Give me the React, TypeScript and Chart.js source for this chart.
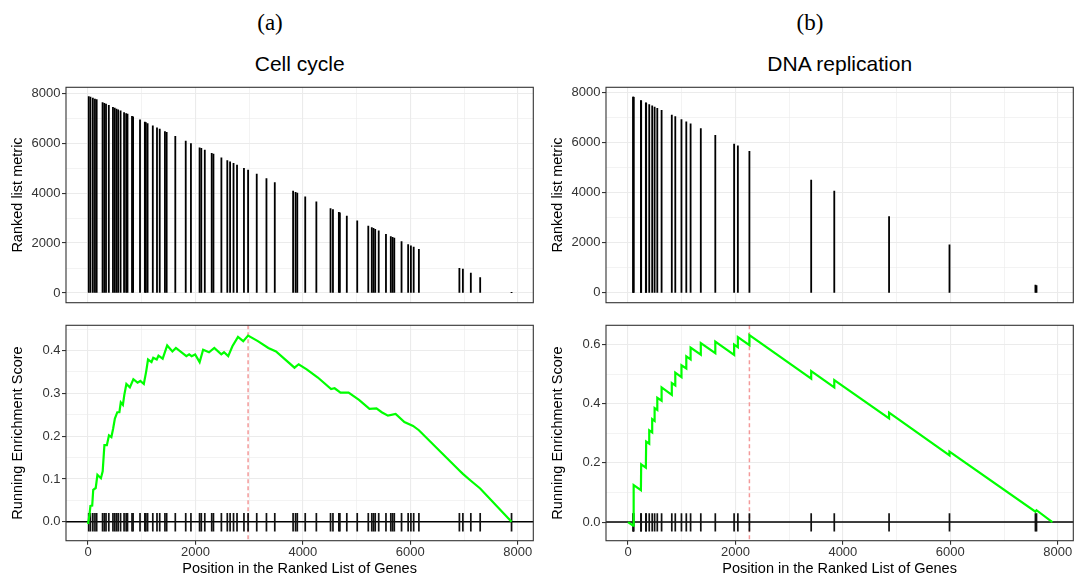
import React, { useEffect, useRef } from "react";
import { Chart, registerables } from "chart.js";

Chart.register(...registerables);

// ---------------- data: Cell cycle ----------------
const CC_HITS = [
  13, 45, 90, 129, 161, 271, 303, 335, 387, 464, 497, 529, 561, 606, 671, 710, 735, 819, 839, 968,
  1058, 1077, 1109, 1206, 1284, 1335, 1432, 1464, 1625, 1819, 1916, 2077, 2109, 2174, 2303, 2335,
  2483, 2593, 2645, 2709, 2774, 2903, 2980, 3141, 3322, 3477, 3818, 3864, 3896, 4044, 4251, 4515,
  4560, 4670, 4689, 4818, 5012, 5218, 5283, 5315, 5347, 5412, 5547, 5637, 5670, 5702, 5837, 5960,
  6011, 6063, 6160, 6914, 6979, 7127, 7301, 7885,
];
const CC_METRIC = [
  7871, 7846, 7807, 7768, 7743, 7629, 7597, 7565, 7513, 7436, 7403, 7371, 7339, 7294, 7229, 7190,
  7165, 7081, 7061, 6932, 6842, 6823, 6791, 6694, 6616, 6565, 6468, 6436, 6275, 6081, 5984, 5813,
  5791, 5726, 5597, 5565, 5417, 5307, 5255, 5191, 5126, 4997, 4920, 4759, 4578, 4423, 4082, 4036,
  4004, 3856, 3649, 3385, 3340, 3230, 3211, 3082, 2888, 2682, 2617, 2585, 2553, 2488, 2353, 2263,
  2230, 2198, 2063, 1940, 1889, 1837, 1749, 990, 952, 797, 617, 12,
];
const CC_ES_POS = [
  0, 26, 45, 78, 97, 143, 175, 240, 273, 305, 351, 390, 435, 468, 500, 545, 584, 610, 649, 675, 714,
  779, 844, 922, 974, 1039, 1084, 1117, 1182, 1214, 1279, 1312, 1390, 1474, 1571, 1636, 1831, 1883,
  1929, 1994, 2078, 2143, 2253, 2351, 2481, 2532, 2610, 2688, 2792, 2890, 2980, 3162, 3357, 3500,
  3844, 3922, 4071, 4279, 4526, 4591, 4701, 4851, 5045, 5240, 5370, 5468, 5584, 5727, 5890, 6052,
  6160, 6914, 6979, 7127, 7301, 7885,
];
const CC_ES = [
  -0.005, 0.016, 0.037, 0.038, 0.075, 0.079, 0.11, 0.102, 0.118, 0.179, 0.179, 0.202, 0.198, 0.218,
  0.241, 0.256, 0.256, 0.279, 0.273, 0.296, 0.322, 0.314, 0.333, 0.325, 0.329, 0.322, 0.352, 0.379,
  0.373, 0.383, 0.379, 0.388, 0.381, 0.412, 0.398, 0.406, 0.387, 0.391, 0.387, 0.391, 0.373, 0.402,
  0.396, 0.406, 0.391, 0.396, 0.387, 0.41, 0.432, 0.422, 0.435, 0.422, 0.406, 0.398, 0.36, 0.368,
  0.356, 0.337, 0.31, 0.312, 0.302, 0.302, 0.285, 0.264, 0.265, 0.256, 0.248, 0.252, 0.233, 0.224,
  0.214, 0.12, 0.112, 0.096, 0.078, 0.0,
];
const CC_PEAK = 2980;
const CC_RUG = [-0.022, 0.02];

// ---------------- data: DNA replication ----------------
const DNA_HITS = [
  95, 100, 105, 240, 245, 332, 338, 395, 450, 495, 545, 625, 815, 880, 995, 1085, 1165, 1355, 1625,
  1975, 2045, 2260, 3410, 3840, 4860, 5985, 7585, 7605,
];
const DNA_METRIC = [
  7805, 7800, 7795, 7660, 7655, 7568, 7562, 7505, 7450, 7405, 7355, 7275, 7085, 7020, 6905, 6815,
  6735, 6545, 6275, 5925, 5855, 5640, 4490, 4060, 3040, 1915, 315, 295,
];
const DNA_ES_POS = [
  0, 95, 105, 240, 245, 332, 338, 395, 395, 450, 450, 495, 495, 545, 545, 625, 625, 815, 815, 880,
  880, 995, 995, 1085, 1085, 1165, 1165, 1355, 1355, 1625, 1625, 1975, 1975, 2045, 2045, 2260, 2260,
  3410, 3410, 3840, 3840, 4860, 4860, 5985, 5985, 7585, 7605, 7900,
];
const DNA_ES = [
  0, -0.012, 0.125, 0.108, 0.195, 0.184, 0.272, 0.265, 0.31, 0.303, 0.348, 0.342, 0.385, 0.379,
  0.42, 0.41, 0.455, 0.43, 0.47, 0.462, 0.505, 0.49, 0.53, 0.519, 0.56, 0.55, 0.59, 0.566, 0.605,
  0.571, 0.61, 0.565, 0.6, 0.591, 0.625, 0.598, 0.632, 0.485, 0.51, 0.455, 0.48, 0.35, 0.37, 0.225,
  0.238, 0.035, 0.04, 0.0,
];
const DNA_PEAK = 2260;
const DNA_RUG = [-0.031, 0.029];

// ---------------- ticks ----------------
const X_TICKS = [0, 1000, 2000, 3000, 4000, 5000, 6000, 7000, 8000];
const X_TICK_LABELS = ["0", "", "2000", "", "4000", "", "6000", "", "8000"];
const METRIC_TICKS = [0, 1000, 2000, 3000, 4000, 5000, 6000, 7000, 8000];
const METRIC_TICK_LABELS = ["0", "", "2000", "", "4000", "", "6000", "", "8000"];
const CC_ES_TICKS = [0, 0.05, 0.1, 0.15, 0.2, 0.25, 0.3, 0.35, 0.4, 0.45];
const CC_ES_TICK_LABELS = ["0.0", "", "0.1", "", "0.2", "", "0.3", "", "0.4", ""];
const DNA_ES_TICKS = [0, 0.1, 0.2, 0.3, 0.4, 0.5, 0.6];
const DNA_ES_TICK_LABELS = ["0.0", "", "0.2", "", "0.4", "", "0.6"];

// ---------------- axis ranges ----------------
const X_RANGE = [-410, 8290];
const CC_METRIC_RANGE = [-390, 8240];
const DNA_METRIC_RANGE = [-390, 8190];
const CC_ES_RANGE = [-0.044, 0.459];
const DNA_ES_RANGE = [-0.063, 0.665];

// ---------------- styling ----------------
const SANS = "'Liberation Sans', Arial, Helvetica, sans-serif";
const SERIF = "'Liberation Serif', 'Times New Roman', serif";
const TICK_FONT = { family: SANS, size: 13 };
const TITLE_FONT = { family: SANS, size: 14.5 };
const GRID = "#EBEBEB";

const PANEL_LEFT = 66;
const PANEL_RIGHT = 533.3;

function gridFor(labels: string[], ticks: boolean) {
  return {
    color: GRID,
    lineWidth: (c: any) => (labels[c.index] ? 1.1 : 0.6),
    tickColor: (c: any) => (labels[c.index] ? "#333333" : "rgba(0,0,0,0)"),
    tickLength: 4,
    drawTicks: ticks,
    offset: false,
  };
}

const panelPlugin = {
  id: "panelDecor",
  beforeDatasetsDraw(chart: any, _args: any, opts: any) {
    const { ctx, chartArea: a, scales } = chart;
    ctx.save();
    if (opts && opts.peak !== undefined && opts.peak !== null) {
      const x = scales.x.getPixelForValue(opts.peak);
      ctx.strokeStyle = "#F49A9A";
      ctx.lineWidth = 1.5;
      ctx.setLineDash([4, 3]);
      ctx.beginPath();
      ctx.moveTo(x, a.top);
      ctx.lineTo(x, a.bottom);
      ctx.stroke();
      ctx.setLineDash([]);
    }
    if (opts && opts.zero) {
      const y = scales.y.getPixelForValue(0);
      ctx.strokeStyle = "#000000";
      ctx.lineWidth = 1.5;
      ctx.beginPath();
      ctx.moveTo(a.left, y);
      ctx.lineTo(a.right, y);
      ctx.stroke();
    }
    ctx.restore();
  },
  afterDraw(chart: any) {
    const { ctx, chartArea: a } = chart;
    ctx.save();
    ctx.strokeStyle = "#333333";
    ctx.lineWidth = 1.1;
    ctx.strokeRect(a.left, a.top, a.right - a.left, a.bottom - a.top);
    ctx.restore();
  },
};

function xScale(bottom: boolean, axisHeight: number) {
  return {
    type: "linear",
    min: X_RANGE[0],
    max: X_RANGE[1],
    offset: false,
    afterBuildTicks: (s: any) => {
      s.ticks = X_TICKS.map((v) => ({ value: v }));
    },
    afterFit: (s: any) => {
      s.height = axisHeight;
    },
    ticks: {
      display: bottom,
      autoSkip: false,
      maxRotation: 0,
      minRotation: 0,
      padding: 0,
      font: TICK_FONT,
      color: "#333333",
      callback: (_v: any, i: number) => X_TICK_LABELS[i],
    },
    grid: gridFor(X_TICK_LABELS, bottom),
    border: { display: false },
    title: {
      display: bottom,
      text: "Position in the Ranked List of Genes",
      font: TITLE_FONT,
      color: "#000000",
      padding: { top: 0, bottom: 0.3 },
    },
  };
}

function yScale(range: number[], ticks: number[], labels: string[], title: string) {
  return {
    type: "linear",
    min: range[0],
    max: range[1],
    afterBuildTicks: (s: any) => {
      s.ticks = ticks.map((v) => ({ value: v }));
    },
    afterFit: (s: any) => {
      s.width = PANEL_LEFT;
    },
    ticks: {
      autoSkip: false,
      padding: 1.5,
      font: TICK_FONT,
      color: "#333333",
      callback: (_v: any, i: number) => labels[i],
    },
    grid: gridFor(labels, true),
    border: { display: false },
    title: {
      display: true,
      text: title,
      font: TITLE_FONT,
      color: "#000000",
      padding: { top: 9.3, bottom: 0 },
    },
  };
}

function metricConfig(hits: number[], metric: number[], range: number[], width: number) {
  return {
    type: "bar",
    data: {
      datasets: [
        {
          type: "bar",
          data: hits.map((x, i) => ({ x, y: metric[i] })),
          backgroundColor: "#000000",
          borderWidth: 0,
          barThickness: 1.15,
        },
      ],
    },
    options: {
      responsive: false,
      maintainAspectRatio: false,
      animation: false,
      devicePixelRatio: 1,
      layout: {
        autoPadding: false,
        padding: { left: 0, right: width - PANEL_RIGHT, top: 6, bottom: 4.7 },
      },
      plugins: { legend: { display: false }, tooltip: { enabled: false }, panelDecor: {} },
      scales: {
        x: xScale(false, 0),
        y: yScale(range, METRIC_TICKS, METRIC_TICK_LABELS, "Ranked list metric"),
      },
    },
    plugins: [panelPlugin],
  };
}

function esConfig(
  esPos: number[],
  es: number[],
  hits: number[],
  rug: number[],
  peak: number,
  range: number[],
  ticks: number[],
  labels: string[],
  width: number
) {
  return {
    type: "bar",
    data: {
      datasets: [
        {
          type: "line",
          data: esPos.map((x, i) => ({ x, y: es[i] })),
          borderColor: "#00FF00",
          borderWidth: 2.2,
          pointRadius: 0,
          tension: 0,
          fill: false,
        },
        {
          type: "bar",
          data: hits.map((x) => ({ x, y: [rug[0], rug[1]] })),
          backgroundColor: "#111111",
          borderWidth: 0,
          barThickness: 1.05,
        },
      ],
    },
    options: {
      responsive: false,
      maintainAspectRatio: false,
      animation: false,
      devicePixelRatio: 1,
      layout: {
        autoPadding: false,
        padding: { left: 0, right: width - PANEL_RIGHT, top: 6.3, bottom: 0 },
      },
      plugins: {
        legend: { display: false },
        tooltip: { enabled: false },
        panelDecor: { peak, zero: true },
      },
      scales: {
        x: xScale(true, 37.3),
        y: yScale(range, ticks, labels, "Running Enrichment Score"),
      },
    },
    plugins: [panelPlugin],
  };
}

function ChartBox(props: { left: number; top: number; width: number; height: number; build: () => any }) {
  const ref = useRef<HTMLCanvasElement | null>(null);
  useEffect(() => {
    const chart = new Chart(ref.current as HTMLCanvasElement, props.build());
    return () => chart.destroy();
  }, []);
  return (
    <div style={{ position: "absolute", left: props.left, top: props.top, width: props.width, height: props.height }}>
      <canvas
        ref={ref}
        width={props.width}
        height={props.height}
        style={{ display: "block", width: props.width, height: props.height }}
      />
    </div>
  );
}

function Label(props: { text: string; x: number; top: number; size: number; family: string }) {
  return (
    <div
      style={{
        position: "absolute",
        left: props.x,
        top: props.top,
        transform: "translateX(-50%)",
        fontFamily: props.family,
        fontSize: props.size,
        lineHeight: `${props.size}px`,
        whiteSpace: "nowrap",
        color: "#000",
      }}
    >
      {props.text}
    </div>
  );
}

export default function App() {
  const leftW = 540;
  const rightW = 534;
  return (
    <div
      style={{
        position: "absolute",
        left: 0,
        top: 0,
        width: 1074,
        height: 575,
        overflow: "hidden",
        background: "#ffffff",
      }}
    >
      <Label text="(a)" x={270} top={10.6} size={23} family={SERIF} />
      <Label text="(b)" x={810} top={10.6} size={23} family={SERIF} />
      <Label text="Cell cycle" x={299.7} top={52.7} size={21} family={SANS} />
      <Label text="DNA replication" x={839.7} top={52.7} size={21} family={SANS} />

      <ChartBox
        left={0}
        top={78}
        width={leftW}
        height={234}
        build={() => metricConfig(CC_HITS, CC_METRIC, CC_METRIC_RANGE, leftW)}
      />
      <ChartBox
        left={0}
        top={316}
        width={leftW}
        height={262}
        build={() =>
          esConfig(CC_ES_POS, CC_ES, CC_HITS, CC_RUG, CC_PEAK, CC_ES_RANGE, CC_ES_TICKS, CC_ES_TICK_LABELS, leftW)
        }
      />
      <ChartBox
        left={540}
        top={78}
        width={rightW}
        height={234}
        build={() => metricConfig(DNA_HITS, DNA_METRIC, DNA_METRIC_RANGE, rightW)}
      />
      <ChartBox
        left={540}
        top={316}
        width={rightW}
        height={262}
        build={() =>
          esConfig(
            DNA_ES_POS,
            DNA_ES,
            DNA_HITS,
            DNA_RUG,
            DNA_PEAK,
            DNA_ES_RANGE,
            DNA_ES_TICKS,
            DNA_ES_TICK_LABELS,
            rightW
          )
        }
      />
    </div>
  );
}
